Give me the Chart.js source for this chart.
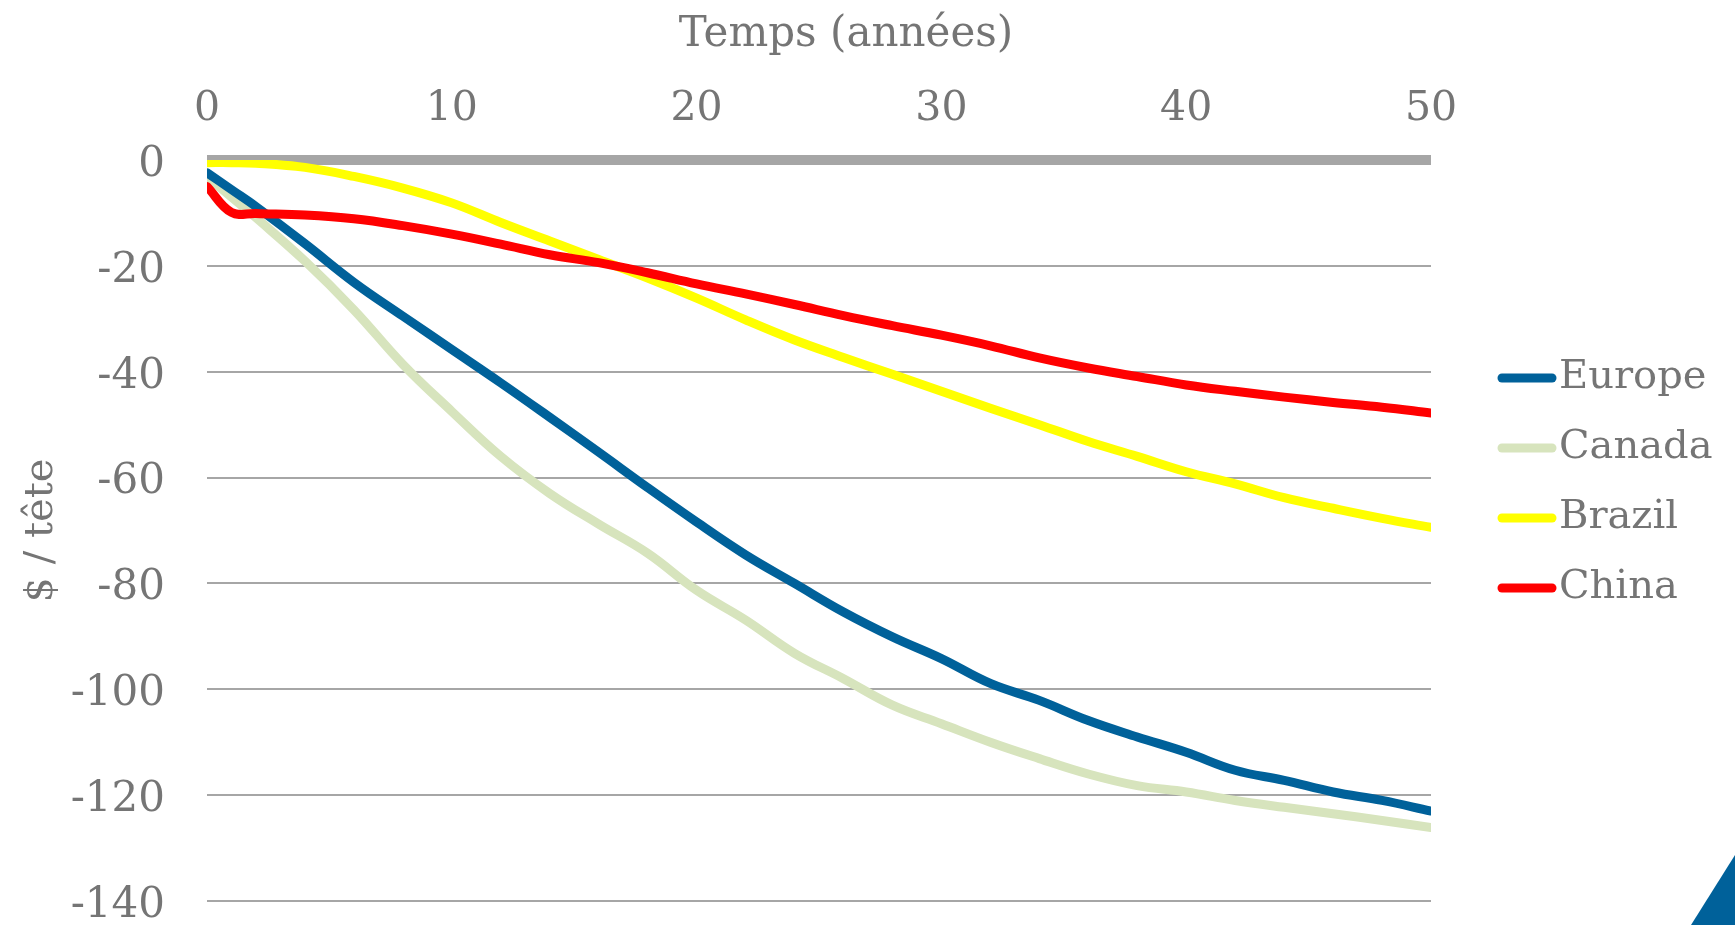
<!DOCTYPE html>
<html>
<head>
<meta charset="utf-8">
<script src="https://cdn.jsdelivr.net/npm/chart.js@4.4.0/dist/chart.umd.min.js"></script>
<style>
  html, body { margin: 0; padding: 0; background: #fff; overflow: hidden; }
  #wrap { position: relative; width: 1735px; height: 925px; }
  #chart { display: block; }
  #corner {
    position: absolute; right: 0; bottom: 0; width: 44px; height: 70px;
    background: #00619a; clip-path: polygon(100% 0, 100% 100%, 0 100%);
  }
</style>
</head>
<body>
<div id="wrap">
  <canvas id="chart" width="1735" height="925"></canvas>
  <div id="corner"></div>
</div>
<script>
// années
const years = [0, 1, 2, 4, 6, 8, 10, 12, 14, 16, 18, 20, 22, 24, 26, 28, 30, 32, 34, 36, 38, 40, 42, 44, 46, 48, 50];

// $ / tête
const europe = [-2.4, -5.6, -8.8, -15.8, -23.1, -29.5, -35.8, -42.1, -48.6, -55.2, -61.9, -68.4, -74.6, -80.0, -85.4, -90.1, -94.2, -98.9, -102.1, -105.9, -109.0, -111.9, -115.3, -117.2, -119.4, -121.0, -123.0];
const canada = [-3.1, -7.0, -10.9, -19.1, -28.3, -38.6, -47.5, -56.0, -63.0, -68.8, -74.3, -81.3, -86.9, -93.2, -98.0, -103.0, -106.5, -110.0, -113.1, -116.0, -118.2, -119.4, -121.0, -122.3, -123.5, -124.8, -126.1];
const brazil = [-0.5, -0.5, -0.6, -1.4, -3.1, -5.3, -8.1, -11.8, -15.3, -18.8, -22.3, -26.1, -30.2, -34.0, -37.3, -40.5, -43.7, -46.9, -50.0, -53.2, -56.0, -58.9, -61.2, -63.8, -65.8, -67.7, -69.4];
const china = [-5.0, -9.9, -10.1, -10.4, -11.1, -12.4, -14.0, -15.9, -17.9, -19.4, -21.3, -23.4, -25.3, -27.3, -29.4, -31.3, -33.1, -35.1, -37.4, -39.3, -40.9, -42.5, -43.7, -44.8, -45.8, -46.7, -47.8];

const xTicks = [0, 10, 20, 30, 40, 50];
const yTicks = [0, -20, -40, -60, -80, -100, -120, -140];

const textColor = "#757575";
const gridColor = "#a6a6a6";
const fontFamily = '"DejaVu Serif", "Liberation Serif", serif';

Chart.defaults.font.family = fontFamily;
Chart.defaults.color = textColor;

const toPoints = vals => vals.map((v, i) => ({ x: years[i], y: v }));

// legend on the right + top title, drawn by hand
const sideLegend = {
    id: "sideLegend",
    afterDraw(chart) {
        const { ctx, chartArea } = chart;
        ctx.save();
        ctx.font = "40px " + fontFamily;
        ctx.textBaseline = "middle";
        ctx.textAlign = "left";
        const x = chartArea.right + 67;
        chart.data.datasets.forEach((ds, i) => {
            const y = chartArea.top + 218 + i * 70;
            ctx.strokeStyle = ds.borderColor;
            ctx.lineWidth = 9;
            ctx.lineCap = "round";
            ctx.beginPath();
            ctx.moveTo(x + 4, y);
            ctx.lineTo(x + 54, y);
            ctx.stroke();
            ctx.fillStyle = textColor;
            ctx.fillText(ds.label, x + 61, y);
        });
        ctx.font = "42px " + fontFamily;
        ctx.textAlign = "center";
        ctx.fillText("Temps (années)", (chartArea.left + chartArea.right) / 2 + 27, 35);
        ctx.restore();
    }
};

const ctx = document.getElementById("chart").getContext("2d");

new Chart(ctx, {
    type: "line",
    data: {
        datasets: [
            { label: "Europe", data: toPoints(europe), borderColor: "#00619a", order: 2 },
            { label: "Canada", data: toPoints(canada), borderColor: "#d7e4bd", order: 3 },
            { label: "Brazil", data: toPoints(brazil), borderColor: "#ffff00", order: 1 },
            { label: "China", data: toPoints(china), borderColor: "#ff0000", order: 0 }
        ]
    },
    options: {
        responsive: false,
        animation: false,
        devicePixelRatio: 1,
        layout: { padding: { top: 0, left: 0, right: 304, bottom: 24 } },
        elements: {
            line: { borderWidth: 9, tension: 0.4, borderCapStyle: "round", borderJoinStyle: "round", fill: false },
            point: { radius: 0, hoverRadius: 0 }
        },
        plugins: {
            legend: { display: false },
            tooltip: { enabled: false }
        },
        scales: {
            x: {
                type: "linear",
                position: "top",
                min: 0,
                max: 50,
                afterBuildTicks: s => { s.ticks = xTicks.map(v => ({ value: v })); },
                afterFit: s => { s.height = 160; },
                ticks: { font: { size: 41 }, padding: 18, maxRotation: 0 },
                grid: { display: false },
                border: { display: false }
            },
            y: {
                min: -140,
                max: 0,
                afterBuildTicks: s => { s.ticks = yTicks.map(v => ({ value: v })); },
                afterFit: s => { s.width = 207; s.paddingTop = 0; s.paddingBottom = 0; },
                ticks: { font: { size: 42 }, padding: 42, labelOffset: 5 },
                grid: {
                    color: gridColor,
                    lineWidth: c => (c.tick && c.tick.value === 0 ? 10 : 2),
                    drawTicks: false
                },
                border: { display: false },
                title: { display: true, text: "$ / tête", font: { size: 40 }, padding: { top: 18, bottom: 0 } }
            }
        }
    },
    plugins: [sideLegend]
});
</script>
</body>
</html>
